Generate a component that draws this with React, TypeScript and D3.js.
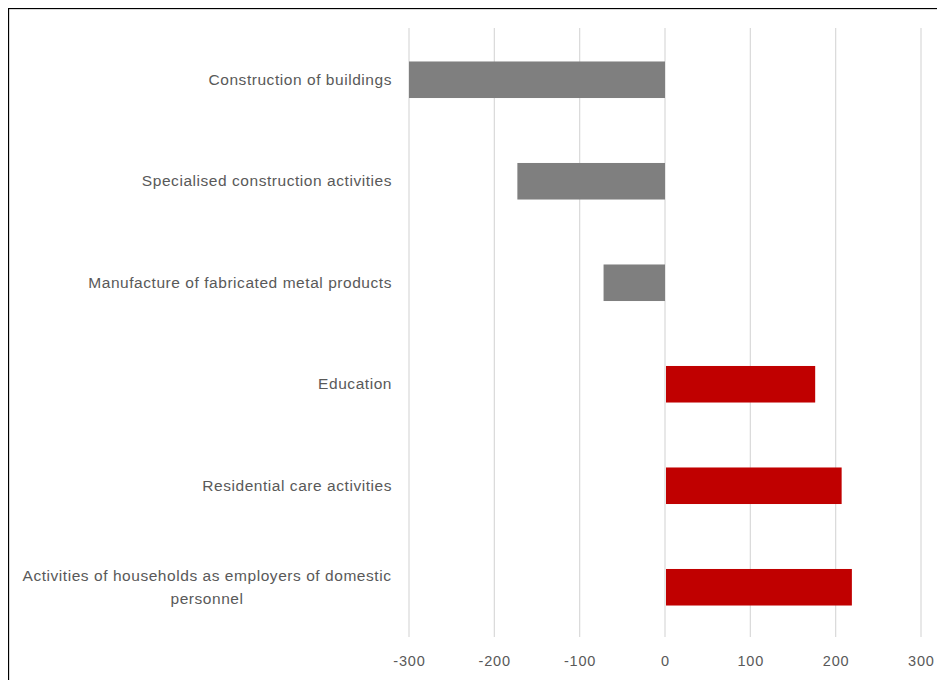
import React from "react";
import * as d3 from "d3";

const categories = [
  "Construction of buildings",
  "Specialised construction activities",
  "Manufacture of fabricated metal products",
  "Education",
  "Residential care activities",
  "Activities of households as employers of domestic personnel",
];
const values = [-300, -173, -72, 176, 207, 219];
const tickValues = [-300, -200, -100, 0, 100, 200, 300];

const W = 937;
const H = 672;

function wrapLabel(s: string): string[] {
  if (s.length > 45) {
    const idx = s.lastIndexOf(" ", 50);
    return [s.slice(0, idx), s.slice(idx + 1)];
  }
  return [s];
}

export default function App() {
  const x = d3.scaleLinear().domain([-300, 300]).range([401, 913]);
  const y = d3.scaleBand<string>().domain(categories).range([21, 630]).paddingInner(0.64).paddingOuter(0.32);
  const font = "'Liberation Sans', Arial, sans-serif";
  return (
    <svg width={W} height={H} style={{ display: "block" }}>
      <rect x={0.5} y={0.5} width={W + 10} height={H + 10} fill="#fff" stroke="#000" strokeWidth={1.3} />
      {tickValues.map((t) => (
        <g key={t}>
          <line x1={x(t)} x2={x(t)} y1={20} y2={629} stroke="#d9d9d9" strokeWidth={1.2} />
          <text x={x(t) + 0.4} y={658} textAnchor="middle" fontFamily={font} fontSize={14.5} letterSpacing={0.8} fill="#595959">
            {t}
          </text>
        </g>
      ))}
      {categories.map((c, i) => {
        const v = values[i];
        const x0 = x(Math.min(0, v));
        const x1 = x(Math.max(0, v));
        return (
          <rect
            key={c}
            x={x0 + (v > 0 ? 1 : 0)}
            y={y(c)}
            width={x1 - x0 - (v > 0 ? 1 : 0)}
            height={y.bandwidth()}
            fill={v < 0 ? "#7f7f7f" : "#c00000"}
          />
        );
      })}
      {categories.map((c) => {
        const lines = wrapLabel(c);
        const cy = (y(c) as number) + y.bandwidth() / 2;
        if (lines.length === 1) {
          return (
            <text key={c} x={384} y={cy + 5} textAnchor="end" fontFamily={font} fontSize={15.5} letterSpacing={0.55} fill="#595959">
              {c}
            </text>
          );
        }
        return (
          <g key={c}>
            {lines.map((l, j) => (
              <text key={j} x={199} y={cy - 6 + j * 23} textAnchor="middle" fontFamily={font} fontSize={15.5} letterSpacing={0.55} fill="#595959">
                {l}
              </text>
            ))}
          </g>
        );
      })}
    </svg>
  );
}
